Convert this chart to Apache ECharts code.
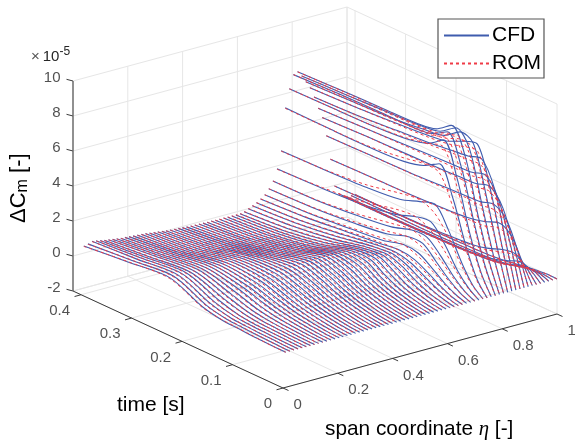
<!DOCTYPE html>
<html>
<head>
<meta charset="utf-8">
<style>
  html, body { margin: 0; padding: 0; background: #fff; }
  #chart { width: 575px; height: 441px; }
</style>
</head>
<body>
<div id="chart"></div>
<script src="https://cdn.jsdelivr.net/npm/echarts@6/dist/echarts.min.js"></script>
<script>
// axis ticks
const zTicks = [-2, 0, 2, 4, 6, 8, 10];
const timeTicks = [0, 0.1, 0.2, 0.3, 0.4];
const etaTicks = [0, 0.2, 0.4, 0.6, 0.8, 1];
const timeMax = 0.416;

// span stations, one curve each
const etaStations = [
  0.01, 0.025, 0.04, 0.055, 0.07, 0.085, 0.1, 0.115, 0.13, 0.145, 0.16, 0.175, 0.19, 0.205, 0.22, 0.235, 0.25,
  0.265, 0.28, 0.295, 0.31, 0.325, 0.34, 0.355, 0.37, 0.385, 0.4, 0.415, 0.43, 0.445, 0.46, 0.475, 0.49, 0.505,
  0.52, 0.535, 0.55, 0.565, 0.58, 0.595, 0.61, 0.625, 0.64, 0.655, 0.67, 0.685, 0.7, 0.715, 0.73, 0.745, 0.76,
  0.775, 0.79, 0.805, 0.82, 0.835, 0.85, 0.865, 0.88, 0.895, 0.91, 0.925, 0.94, 0.955, 0.97, 0.985, 1
];

// samples along each curve
const timeKnots = [0.4, 0.31, 0.23, 0.165, 0.125, 0.095, 0.068, 0.042, 0.02, 0];

// dCm x 1e5, one row per station
const cfdValues = [
  [.74,1.0,1.2,.4,.15,.1,.05,.03,.01,0],
  [.8,1.02,1.22,.42,.16,.1,.06,.03,.01,0],
  [.89,1.05,1.23,.45,.17,.1,.06,.04,.01,0],
  [.85,1.05,1.24,.48,.18,.1,.07,.04,.02,0],
  [.8,1.03,1.23,.52,.2,.1,.07,.05,.02,0],
  [.75,1.0,1.2,.58,.25,.12,.08,.05,.02,0],
  [.72,1.0,1.2,.63,.28,.14,.09,.05,.02,0],
  [.68,.97,1.2,.68,.32,.17,.1,.05,.02,0],
  [.65,.94,1.19,.74,.37,.2,.12,.06,.02,0],
  [.62,.91,1.18,.8,.43,.24,.14,.07,.03,0],
  [.6,.88,1.18,.85,.5,.28,.16,.08,.03,0],
  [.58,.85,1.17,.89,.54,.31,.18,.09,.03,0],
  [.56,.82,1.16,.93,.58,.34,.19,.1,.03,0],
  [.54,.78,1.16,.97,.62,.37,.21,.1,.03,0],
  [.52,.75,1.15,1.01,.66,.4,.23,.11,.04,0],
  [.5,.72,1.15,1.05,.7,.42,.25,.12,.04,0],
  [.47,.7,1.14,1.08,.73,.44,.26,.13,.04,0],
  [.44,.68,1.13,1.11,.76,.46,.27,.13,.05,0],
  [.41,.66,1.12,1.14,.79,.48,.28,.14,.05,0],
  [.38,.64,1.11,1.17,.82,.5,.29,.14,.05,0],
  [.35,.62,1.1,1.2,.85,.52,.3,.15,.05,0],
  [.33,.6,1.07,1.23,.88,.54,.31,.15,.05,0],
  [.31,.58,1.04,1.26,.91,.56,.32,.16,.06,0],
  [.29,.56,1.01,1.29,.94,.58,.33,.16,.06,0],
  [.27,.54,.98,1.32,.97,.6,.34,.17,.06,0],
  [.25,.52,.95,1.35,1.0,.62,.35,.17,.06,0],
  [.24,.5,.93,1.36,1.02,.63,.36,.18,.06,0],
  [.23,.48,.91,1.37,1.04,.64,.37,.18,.07,0],
  [.22,.46,.89,1.38,1.06,.65,.37,.18,.07,0],
  [.21,.44,.87,1.39,1.08,.66,.38,.19,.07,0],
  [.2,.42,.85,1.4,1.1,.67,.38,.19,.07,0],
  [.2,.41,.83,1.39,1.14,.68,.39,.19,.07,0],
  [.19,.4,.81,1.38,1.18,.7,.39,.2,.07,0],
  [.18,.39,.79,1.37,1.22,.72,.4,.2,.08,0],
  [.18,.38,.77,1.36,1.26,.74,.41,.21,.08,0],
  [.17,.37,.75,1.35,1.3,.76,.42,.21,.08,0],
  [.17,.37,.75,1.33,1.34,.81,.44,.22,.08,0],
  [.17,.37,.75,1.32,1.37,.88,.47,.23,.09,0],
  [.17,.37,.77,1.3,1.4,.95,.5,.25,.1,0],
  [.23,.43,.8,1.28,1.4,1.02,.58,.28,.11,0],
  [.34,.52,.85,1.27,1.4,1.1,.65,.3,.12,0],
  [.44,.61,.92,1.28,1.4,1.15,.72,.35,.13,0],
  [.55,.7,1.0,1.3,1.4,1.2,.8,.4,.15,0],
  [.7,.85,1.1,1.3,1.45,1.3,.9,.45,.15,0],
  [.88,1.0,1.2,1.4,1.7,1.6,1.1,.55,.2,0],
  [1.16,1.25,1.45,1.7,2.1,2.1,1.4,.7,.25,0],
  [1.54,1.6,1.8,2.05,2.4,2.4,1.7,.85,.3,0],
  [2.17,2.25,2.4,2.7,3.1,3.2,2.3,1.1,.4,0],
  [3.14,3.2,3.3,3.5,3.9,4.15,3.0,1.5,.5,0],
  [5.54,5.5,5.5,5.6,5.9,6.4,4.8,2.4,.8,0],
  [6.56,6.6,6.65,6.8,7.1,7.7,5.9,3.0,1.1,0],
  [7.3,7.4,7.45,7.45,7.6,8.1,6.5,3.6,1.4,0],
  [7.4,7.5,7.55,7.6,7.8,8.4,7.0,3.9,1.6,0],
  [7.1,7.2,7.3,7.4,7.6,8.2,7.4,4.4,1.9,0],
  [6.7,6.8,6.9,7.1,7.3,7.9,7.6,4.9,2.2,0],
  [6.3,6.4,6.55,6.7,6.9,7.3,7.5,5.2,2.4,0],
  [5.7,5.8,6.0,6.15,6.3,6.4,6.6,5.2,2.5,0],
  [5.0,5.1,5.2,5.3,5.35,5.4,5.6,4.5,2.4,0],
  [4.4,4.5,4.55,4.6,4.65,4.7,4.9,4.0,2.1,0],
  [3.3,3.35,3.4,3.5,3.55,3.6,3.8,3.2,1.7,0],
  [1.9,1.95,2.0,2.1,2.2,2.4,2.7,2.3,1.1,0],
  [.3,.35,.4,.5,.6,.8,1.1,1.2,.7,0],
  [-.2,-.2,-.15,-.1,0,.15,.4,.7,.5,0],
  [-.4,-.4,-.35,-.3,-.2,-.1,.1,.4,.35,0],
  [-.5,-.5,-.45,-.4,-.35,-.2,0,.2,.2,0],
  [-.5,-.5,-.5,-.45,-.4,-.3,-.12,.05,.08,0],
  [-.5,-.5,-.5,-.45,-.4,-.3,-.15,-.05,.02,0]
];

const romValues = [
  [.72,1.02,1.15,.36,.17,.12,.07,.02,0,0],
  [.78,1.04,1.17,.38,.18,.12,.07,.03,0,0],
  [.87,1.07,1.18,.4,.18,.12,.07,.03,.01,0],
  [.84,1.07,1.2,.43,.19,.12,.08,.03,.01,0],
  [.79,1.05,1.19,.46,.2,.12,.08,.04,.01,0],
  [.74,1.02,1.17,.52,.23,.12,.08,.04,.01,0],
  [.71,1.02,1.18,.57,.26,.13,.08,.04,.01,0],
  [.67,.99,1.18,.62,.29,.15,.09,.04,.01,0],
  [.64,.96,1.17,.67,.33,.18,.1,.05,.01,0],
  [.61,.93,1.17,.72,.38,.21,.12,.06,.02,0],
  [.59,.9,1.17,.77,.43,.24,.14,.07,.02,0],
  [.57,.87,1.17,.81,.46,.27,.15,.07,.02,0],
  [.55,.84,1.16,.85,.49,.29,.16,.08,.02,0],
  [.53,.8,1.16,.89,.53,.32,.18,.08,.02,0],
  [.51,.77,1.15,.93,.56,.34,.2,.09,.03,0],
  [.49,.74,1.15,.97,.59,.36,.21,.1,.03,0],
  [.46,.72,1.15,1.0,.62,.38,.22,.11,.03,0],
  [.43,.7,1.14,1.03,.65,.39,.23,.11,.03,0],
  [.4,.68,1.13,1.06,.67,.41,.24,.12,.04,0],
  [.37,.66,1.13,1.1,.7,.43,.25,.12,.04,0],
  [.34,.64,1.12,1.14,.73,.44,.25,.13,.04,0],
  [.32,.62,1.1,1.17,.76,.46,.26,.13,.04,0],
  [.3,.6,1.07,1.2,.79,.48,.27,.14,.05,0],
  [.28,.58,1.04,1.23,.82,.5,.28,.14,.05,0],
  [.26,.56,1.01,1.26,.85,.52,.29,.14,.05,0],
  [.24,.54,.98,1.29,.88,.53,.3,.15,.05,0],
  [.24,.52,.96,1.3,.9,.54,.31,.15,.05,0],
  [.23,.5,.94,1.31,.92,.55,.32,.16,.05,0],
  [.22,.48,.92,1.32,.94,.56,.32,.16,.06,0],
  [.21,.46,.9,1.33,.96,.57,.33,.16,.06,0],
  [.2,.44,.88,1.34,.98,.58,.33,.16,.06,0],
  [.2,.43,.86,1.34,1.02,.59,.34,.17,.06,0],
  [.19,.42,.84,1.33,1.06,.61,.34,.17,.06,0],
  [.19,.41,.82,1.33,1.1,.63,.35,.18,.06,0],
  [.19,.4,.8,1.32,1.14,.65,.36,.18,.06,0],
  [.19,.39,.78,1.32,1.18,.67,.37,.18,.07,0],
  [.19,.39,.78,1.31,1.22,.71,.38,.19,.07,0],
  [.19,.39,.78,1.3,1.25,.77,.41,.2,.07,0],
  [.19,.39,.8,1.29,1.28,.83,.44,.22,.08,0],
  [.24,.45,.83,1.28,1.3,.88,.5,.24,.09,0],
  [.35,.54,.88,1.28,1.32,.95,.55,.26,.1,0],
  [.45,.63,.95,1.3,1.33,1.0,.6,.3,.11,0],
  [.56,.72,1.04,1.34,1.35,1.05,.68,.34,.12,0],
  [.71,.87,1.15,1.38,1.42,1.15,.78,.38,.13,0],
  [.88,1.02,1.27,1.52,1.68,1.4,.95,.47,.17,0],
  [1.16,1.27,1.53,1.86,2.08,1.85,1.2,.6,.22,0],
  [1.54,1.62,1.9,2.25,2.42,2.1,1.45,.74,.27,0],
  [2.15,2.3,2.55,3.0,3.1,2.7,1.9,.95,.35,0],
  [3.12,3.22,3.45,3.85,4.0,3.6,2.6,1.3,.45,0],
  [5.5,5.5,5.55,5.8,6.0,5.9,4.3,2.2,.7,0],
  [6.55,6.6,6.65,6.85,7.1,7.3,5.4,2.8,1.0,0],
  [7.3,7.38,7.42,7.42,7.5,7.7,6.1,3.4,1.3,0],
  [7.4,7.48,7.52,7.52,7.6,7.9,6.6,3.7,1.5,0],
  [7.1,7.2,7.25,7.3,7.4,7.8,7.1,4.2,1.8,0],
  [6.7,6.8,6.85,7.0,7.15,7.5,7.3,4.7,2.1,0],
  [6.3,6.4,6.5,6.6,6.75,7.0,7.1,5.0,2.3,0],
  [5.7,5.8,5.95,6.05,6.15,6.2,6.2,5.0,2.4,0],
  [5.0,5.1,5.15,5.2,5.2,5.2,5.3,4.4,2.3,0],
  [4.4,4.5,4.5,4.55,4.55,4.5,4.6,3.8,2.0,0],
  [3.3,3.35,3.38,3.42,3.45,3.4,3.5,3.0,1.6,0],
  [1.9,1.95,1.98,2.05,2.1,2.15,2.4,2.15,1.05,0],
  [.3,.35,.38,.45,.55,.7,.95,1.1,.65,0],
  [-.2,-.2,-.17,-.12,-.02,.1,.32,.62,.46,0],
  [-.4,-.4,-.36,-.32,-.22,-.12,.06,.36,.32,0],
  [-.5,-.5,-.46,-.42,-.36,-.22,-.03,.17,.18,0],
  [-.5,-.5,-.5,-.46,-.41,-.32,-.14,.03,.07,0],
  [-.5,-.5,-.5,-.46,-.41,-.32,-.17,-.06,.01,0]
];

// view of the 3d box on the page
function project(eta, time, z) {
  const f = time / timeMax;
  return [283 + 274 * eta - 210 * f, 388 - 74 * eta - 97 * f - 17.5 * (z + 2)];
}

function segments(list) {
  const out = [];
  list.forEach((s) => {
    out.push(project(s[0], s[1], s[2]), project(s[3], s[4], s[5]), [null, null]);
  });
  return out;
}

const gridSegs = [];
zTicks.forEach((z) => {
  gridSegs.push([0, timeMax, z, 1, timeMax, z]);
  gridSegs.push([1, timeMax, z, 1, 0, z]);
});
etaTicks.forEach((e) => {
  gridSegs.push([e, timeMax, -2, e, timeMax, 10]);
  gridSegs.push([e, 0, -2, e, timeMax, -2]);
});
timeTicks.concat([timeMax]).forEach((t) => {
  gridSegs.push([1, t, -2, 1, t, 10]);
  gridSegs.push([0, t, -2, 1, t, -2]);
});

const axisSegs = [
  [0, 0, -2, 1, 0, -2],
  [0, 0, -2, 0, timeMax, -2]
];

const labelFont = { color: '#262626', fontFamily: 'Liberation Sans', fontSize: 15 };

function tickLabels(points) {
  return {
    type: 'scatter',
    symbolSize: 0,
    silent: true,
    z: 6,
    data: points,
  };
}

const series = [
  {
    type: 'line',
    name: 'grid',
    silent: true,
    symbol: 'none',
    z: 1,
    lineStyle: { color: '#e6e6e6', width: 1 },
    data: segments(gridSegs),
  },
  {
    type: 'line',
    name: 'axes',
    silent: true,
    symbol: 'none',
    z: 5,
    lineStyle: { color: '#3a3a3a', width: 1 },
    data: segments(axisSegs),
  },
  {
    type: 'line',
    name: 'zaxis',
    silent: true,
    symbol: 'none',
    z: 5,
    lineStyle: { color: '#666666', width: 1.4 },
    data: segments([[0, timeMax, -2, 0, timeMax, 10]]),
  },
  {
    type: 'custom',
    name: 'ticks',
    silent: true,
    z: 5,
    coordinateSystem: 'cartesian2d',
    data: zTicks.map((z) => [...project(0, timeMax, z), -6.5, -1.7])
      .concat(timeTicks.map((t) => [...project(0, t, -2), -6.5, 1.8]))
      .concat(etaTicks.map((e) => [...project(e, 0, -2), 5.5, 2.5])),
    renderItem: (params, api) => {
      const p = api.coord([api.value(0), api.value(1)]);
      return {
        type: 'line',
        shape: { x1: p[0], y1: p[1], x2: p[0] + api.value(2), y2: p[1] + api.value(3) },
        style: { stroke: '#3a3a3a', lineWidth: 1 },
      };
    },
  },
  tickLabels(zTicks.map((z) => ({
    value: project(0, timeMax, z),
    label: { show: true, position: 'left', distance: 0, offset: [-12.5, -3.5], formatter: String(z), ...labelFont },
  }))),
  tickLabels(timeTicks.map((t) => ({
    value: project(0, t, -2),
    label: { show: true, position: 'left', distance: 0, offset: [-11, 16], formatter: String(t), ...labelFont },
  }))),
  tickLabels(etaTicks.map((e) => ({
    value: project(e, 0, -2),
    label: { show: true, position: 'right', distance: 0, offset: [10.5, 17], formatter: String(e), ...labelFont },
  }))),
];

etaStations.forEach((eta, i) => {
  series.push({
    type: 'line',
    name: 'CFD',
    silent: true,
    symbol: 'none',
    smooth: 0.3,
    z: 3,
    itemStyle: { color: '#3f5cae' },
    lineStyle: { color: '#3f5cae', width: 1.1 },
    data: timeKnots.map((t, k) => project(eta, t, cfdValues[i][k])),
  });
});
etaStations.forEach((eta, i) => {
  series.push({
    type: 'line',
    name: 'ROM',
    silent: true,
    symbol: 'none',
    smooth: 0.3,
    z: 4,
    itemStyle: { color: '#ef3b47' },
    lineStyle: { color: '#ef3b47', width: 1, type: [3, 3] },
    data: timeKnots.map((t, k) => project(eta, t, romValues[i][k])),
  });
});

const chart = echarts.init(document.getElementById('chart'));
chart.setOption({
  animation: false,
  backgroundColor: '#ffffff',
  grid: { left: 0, right: 0, top: 0, bottom: 0 },
  xAxis: { type: 'value', min: 0, max: 575, show: false },
  yAxis: { type: 'value', min: 0, max: 441, inverse: true, show: false },
  legend: {
    data: ['CFD', 'ROM'],
    orient: 'vertical',
    left: 438,
    top: 19,
    padding: [6, 3, 4, 5],
    itemWidth: 45,
    itemHeight: 14,
    itemGap: 7,
    backgroundColor: '#ffffff',
    borderColor: '#555555',
    borderWidth: 1.2,
    selectedMode: false,
    itemStyle: { opacity: 0, borderWidth: 0 },
    z: 10,
    textStyle: { color: '#000000', fontFamily: 'Liberation Sans', fontSize: 21, padding: [0, 0, 0, -2] },
  },
  graphic: [
    {
      type: 'text',
      x: 31,
      y: 46,
      silent: true,
      style: {
        text: '{x|\u00d7}{a|10}{b|-5}',
        rich: {
          x: { fontFamily: 'Liberation Sans', fontSize: 15, fill: '#555555', padding: [0, 3, 0, 0] },
          a: { fontFamily: 'Liberation Sans', fontSize: 15, fill: '#262626' },
          b: { fontFamily: 'Liberation Sans', fontSize: 12, fill: '#262626', padding: [0, 0, 9, 0] },
        },
      },
    },
    {
      type: 'text',
      x: 7,
      y: 223,
      rotation: Math.PI / 2,
      silent: true,
      style: {
        text: '{a|\u0394C}{m|m}{a| [-]}',
        rich: {
          a: { fontFamily: 'Liberation Sans', fontSize: 22, fill: '#000000' },
          m: { fontFamily: 'Liberation Sans', fontSize: 16, fill: '#000000', padding: [8, 0, 0, 0] },
        },
      },
    },
    {
      type: 'text',
      x: 117,
      y: 395,
      silent: true,
      style: { text: 'time [s]', fontFamily: 'Liberation Sans', fontSize: 21, fill: '#000000' },
    },
    {
      type: 'text',
      x: 325,
      y: 419,
      silent: true,
      style: {
        text: '{a|span coordinate }{e|\u03b7}{a| [-]}',
        rich: {
          a: { fontFamily: 'Liberation Sans', fontSize: 20.8, fill: '#000000' },
          e: { fontFamily: 'Liberation Serif', fontStyle: 'italic', fontSize: 20.8, fill: '#000000' },
        },
      },
    },
  ],
  series,
});
</script>
</body>
</html>
